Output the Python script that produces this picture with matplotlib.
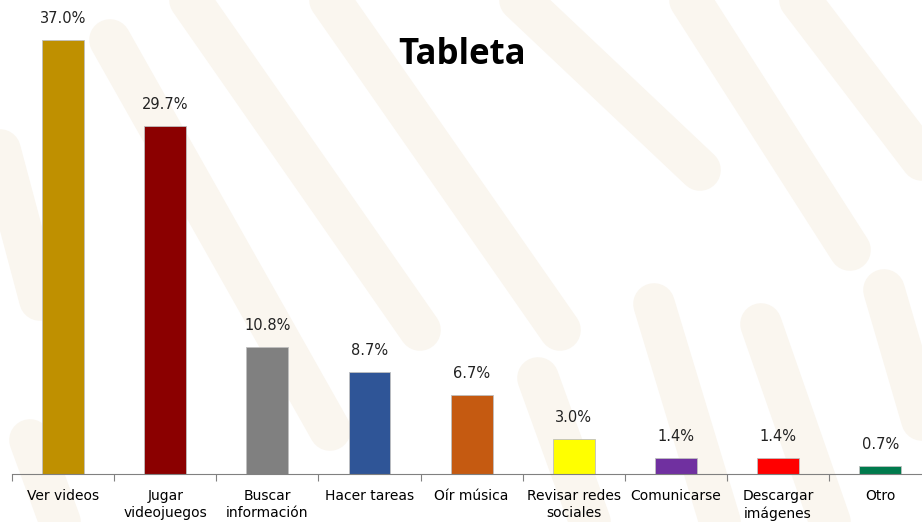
import numpy as np
import matplotlib.pyplot as plt

categorias = ["Ver videos", "Jugar\nvideojuegos", "Buscar\ninformación", "Hacer tareas",
              "Oír música", "Revisar redes\nsociales", "Comunicarse", "Descargar\nimágenes", "Otro"]
valores = [37.0, 29.7, 10.8, 8.7, 6.7, 3.0, 1.4, 1.4, 0.7]
colores = ["#BF9000", "#8B0000", "#808080", "#2F5597", "#C55A11",
           "#FFFF00", "#7030A0", "#FF0000", "#007A4D"]

fig = plt.figure(figsize=(9.22, 5.22), dpi=100)

# faint decorative background bands (slide template)
bg = fig.add_axes([0, 0, 1, 1], zorder=0)
bg.set_xlim(0, 922)
bg.set_ylim(522, 0)
bg.axis("off")
bandas = [((110, 40), (330, 430)), ((190, 0), (420, 330)), ((330, 0), (560, 330)),
          ((520, 0), (700, 170)), ((690, 0), (850, 250)), ((800, 0), (922, 160)),
          ((538, 378), (590, 522)), ((654, 304), (720, 522)), ((761, 324), (830, 522)),
          ((884, 290), (922, 420)), ((30, 440), (60, 522)), ((0, 150), (40, 300))]
for (x0, y0), (x1, y1) in bandas:
    bg.plot([x0, x1], [y0, y1], color="#FAF6EF", lw=30, solid_capstyle="round")

ax = fig.add_axes([0.013, 0.092, 0.997, 0.898], zorder=1)
ax.patch.set_alpha(0)

x = np.arange(len(categorias))
ax.bar(x, valores, width=0.41, color=colores, edgecolor="#BFBFBF", linewidth=0.6, zorder=2)
for xi, v in zip(x, valores):
    ax.text(xi, v + 1.2, f"{v:.1f}%", ha="center", va="bottom", fontsize=10.5, color="#222222")

ax.set_xlim(-0.5, len(categorias) - 0.5)
ax.set_ylim(0, 40)
ax.set_yticks([])
for s in ["top", "right", "left"]:
    ax.spines[s].set_visible(False)
ax.spines["bottom"].set_color("#808080")
ax.set_xticks(np.arange(len(categorias) + 1) - 0.5)
ax.set_xticklabels([])
ax.tick_params(axis="x", length=5, color="#808080", direction="out")
ax.set_xticks(x, minor=True)
ax.set_xticklabels(categorias, minor=True, fontsize=10, linespacing=1.25)
ax.tick_params(axis="x", which="minor", length=0, pad=11)

fig.text(0.501, 0.895, "Tableta", ha="center", va="center", fontsize=25,
         fontweight="bold", family="Open Sans")

fig.savefig("out.png", dpi=100)
